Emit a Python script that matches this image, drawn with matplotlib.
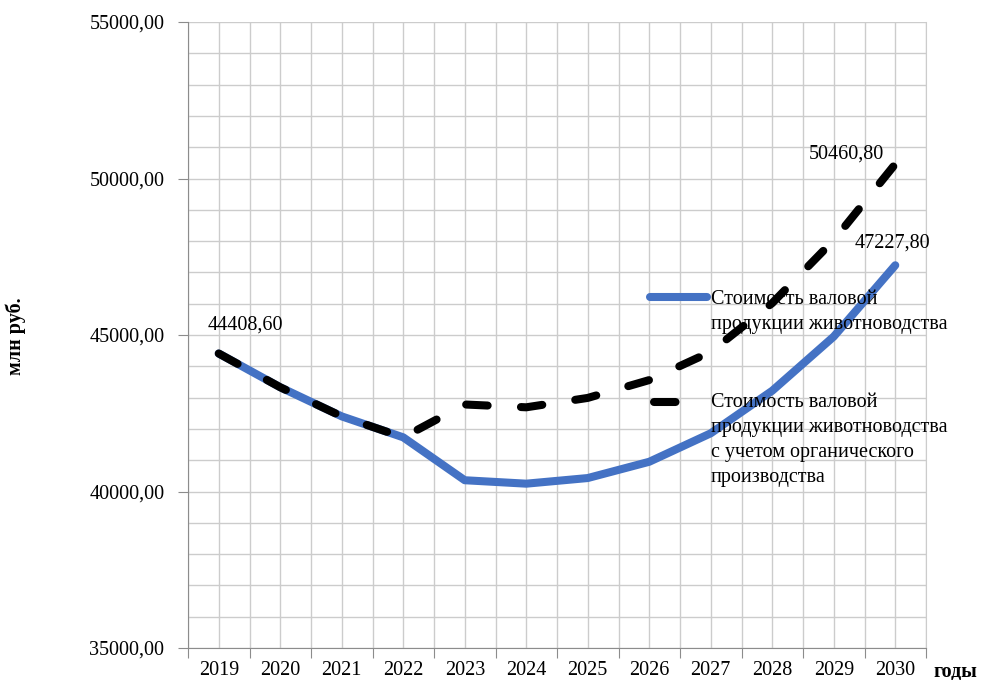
import matplotlib
matplotlib.use("Agg")
import matplotlib.pyplot as plt
from matplotlib.lines import Line2D
from matplotlib.ticker import FuncFormatter, MultipleLocator, FixedLocator

plt.rcParams['font.family'] = ['Liberation Serif', 'DejaVu Serif']

years = ['2019', '2020', '2021', '2022', '2023', '2024', '2025', '2026', '2027', '2028', '2029', '2030']
base_values = [44408.6, 43330, 42400, 41730, 40360, 40250, 40430, 40950, 41860, 43220, 44950, 47227.8]
organic_values = [44408.6, 43330, 42400, 41730, 42780, 42690, 42990, 43560, 44460, 46020, 48030, 50460.8]
series_names = ['Стоимость валовой\nпродукции животноводства',
                'Стоимость валовой\nпродукции животноводства\nс учетом органического\nпроизводства']
y_label = 'млн руб.'
x_label = 'годы'

BLUE = '#4472C4'
GRID = '#cccccc'
FS = 14.5

fig = plt.figure(figsize=(9.81, 6.8), dpi=100)
ax = fig.add_axes([188/981, 1-648/680, (926-188)/981, (648-22)/680])

x = list(range(len(years)))
lw = 5.8
ax.plot(x, base_values, color=BLUE, lw=lw, solid_capstyle='round', solid_joinstyle='round', zorder=3)
dl, = ax.plot(x, organic_values, color='black', lw=lw, dash_capstyle='round', zorder=4)
dl.set_dashes((15.5 / lw, 24.0 / lw))

ax.set_xlim(-0.5, len(years) - 0.5)
ax.set_ylim(35000, 55000)

# x axis: boundaries as major ticks, centers labeled (minor)
ax.xaxis.set_major_locator(FixedLocator([i - 0.5 for i in range(len(years) + 1)]))
ax.xaxis.set_minor_locator(FixedLocator(x))
ax.set_xticklabels([], minor=False)
ax.set_xticklabels(years, minor=True)
ax.tick_params(axis='x', which='major', length=7, color='#8c8c8c', direction='out')
ax.tick_params(axis='x', which='minor', length=0, labelsize=FS, pad=9.5)

ax.yaxis.set_major_locator(MultipleLocator(5000))
ax.yaxis.set_minor_locator(MultipleLocator(1000))
ax.yaxis.set_major_formatter(FuncFormatter(lambda v, p: f"{v:.2f}".replace('.', ',')))
ax.tick_params(axis='y', which='major', length=7, color='#8c8c8c', labelsize=FS, pad=10)
ax.tick_params(axis='y', which='minor', length=0)

ax.grid(True, which='both', color=GRID, lw=1.0, zorder=0)
ax.set_axisbelow(True)
ax.spines['top'].set_visible(False)
ax.spines['right'].set_color(GRID)
ax.spines['left'].set_color('#8c8c8c')
ax.spines['bottom'].set_color('#8c8c8c')

ax.set_ylabel(y_label, fontsize=14.5, fontweight='bold', labelpad=0)
ax.yaxis.set_label_coords((26 - 188) / 738, (648 - 336) / 626)
fig.text(955/981, 1-671/680, x_label, fontsize=14.5, fontweight='bold', ha='center', va='center')

# data labels
ax.annotate(f"{base_values[0]:.2f}".replace('.', ','), (x[0], base_values[0]),
            xytext=(27*0.72, 28*0.72), textcoords='offset points', ha='center', va='center', fontsize=FS)
ax.annotate(f"{organic_values[-1]:.2f}".replace('.', ','), (x[-1], organic_values[-1]),
            xytext=(-49*0.72, 10*0.72), textcoords='offset points', ha='center', va='center', fontsize=FS)
ax.annotate(f"{base_values[-1]:.2f}".replace('.', ','), (x[-1], base_values[-1]),
            xytext=(-3*0.72, 22*0.72), textcoords='offset points', ha='center', va='center', fontsize=FS)

# legend (manual, Excel style: handle aligned with the first text line)
def fx(px):
    return (px - 188) / 738
def fy(py):
    return (648 - py) / 626

ax.add_line(Line2D([fx(650), fx(707)], [fy(297), fy(297)], transform=ax.transAxes,
                   color=BLUE, lw=lw, solid_capstyle='round', zorder=5))
l2 = Line2D([fx(654), fx(707)], [fy(402), fy(402)], transform=ax.transAxes,
            color='black', lw=lw, dash_capstyle='round', zorder=5)
l2.set_dashes((15.5 / lw, 24.0 / lw))
ax.add_line(l2)
ax.text(fx(711), fy(290), series_names[0], transform=ax.transAxes, fontsize=FS,
        va='top', ha='left', linespacing=1.42, zorder=6)
ax.text(fx(711), fy(393), series_names[1], transform=ax.transAxes, fontsize=FS,
        va='top', ha='left', linespacing=1.42, zorder=6)

fig.savefig('out.png', dpi=100)
